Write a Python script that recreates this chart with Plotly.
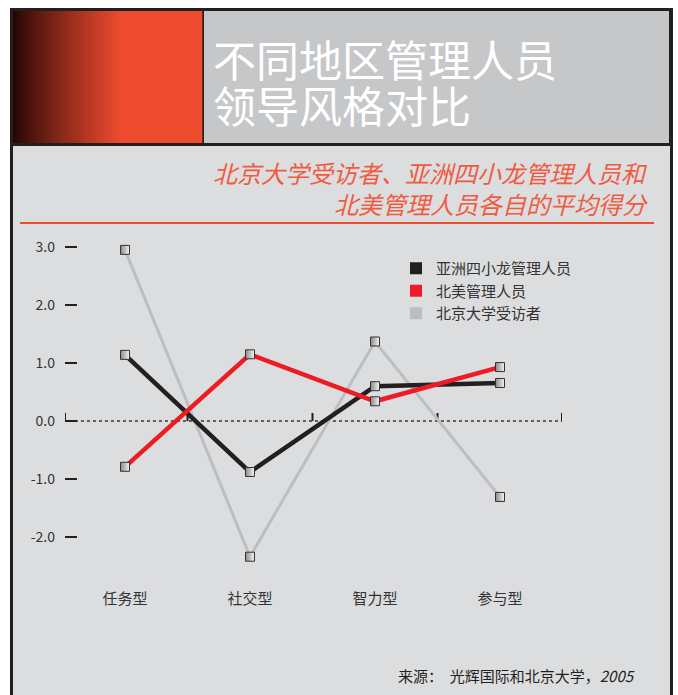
import plotly.graph_objects as go

W, H = 678, 695

categories = ["任务型", "社交型", "智力型", "参与型"]
series_names = ["亚洲四小龙管理人员", "北美管理人员", "北京大学受访者"]
asia_values = [1.14, -0.88, 0.60, 0.655]
na_values = [-0.79, 1.15, 0.34, 0.93]
pku_values = [2.95, -2.34, 1.37, -1.31]
y_tick_vals = [3, 2, 1, 0, -1, -2]
y_tick_text = ["3.0", "2.0", "1.0", "0.0", "-1.0", "-2.0"]

title_lines = ["不同地区管理人员", "领导风格对比"]
subtitle_lines = ["北京大学受访者、亚洲四小龙管理人员和", "北美管理人员各自的平均得分"]
source_text = "来源：  光辉国际和北京大学，<i>2005</i>"

C_BLACK = "#231F20"
C_RED = "#ED1C24"
C_GRAY = "#BCBEC0"
C_PANEL = "#DCDDDF"
C_HEAD = "#C6C7C9"
C_ORANGE = "#EF4B2F"

FONT = "Noto Sans CJK SC, Noto Sans, sans-serif"


def px(x):
    return x / W


def py(y):
    return 1 - y / H


x_idx = list(range(len(categories)))

fig = go.Figure()

marker_style = dict(
    symbol="square",
    size=9,
    color="#8a8a8a",
    gradient=dict(type="horizontal", color="#f4f4f4"),
    line=dict(color="#333333", width=1),
)

# draw order: gray, black, red
for name, vals, col, w in [
    (series_names[2], pku_values, C_GRAY, 3),
    (series_names[0], asia_values, C_BLACK, 4.5),
    (series_names[1], na_values, C_RED, 4.5),
]:
    fig.add_trace(go.Scatter(
        x=x_idx, y=vals, mode="lines+markers", name=name,
        line=dict(color=col, width=w), marker=marker_style,
        showlegend=False, hoverinfo="skip",
    ))

# legend entries
for name, col in [(series_names[0], C_BLACK), (series_names[1], C_RED), (series_names[2], C_GRAY)]:
    fig.add_trace(go.Scatter(
        x=[None], y=[None], mode="markers", name=name,
        marker=dict(symbol="square", size=12, color=col),
        showlegend=True,
    ))

shapes = []
# outer dark frame
shapes.append(dict(type="rect", xref="paper", yref="paper", x0=px(10), x1=px(673), y0=py(700), y1=py(8),
                   fillcolor=C_BLACK, line=dict(width=0), layer="below"))


def lerp(a, b, t):
    return int(round(a + (b - a) * t))


# gradient block (stripes)
c0 = (0x22, 0x06, 0x03)
c1 = (0xEF, 0x4B, 0x2F)
x = 13
while x < 202:
    t = min(1.0, (x - 13) / 108.0)
    t = t ** 0.85
    col = "rgb(%d,%d,%d)" % tuple(lerp(c0[i], c1[i], t) for i in range(3))
    x2 = min(202, x + 2) if x < 125 else 202
    shapes.append(dict(type="rect", xref="paper", yref="paper", x0=px(x), x1=px(x2 + 0.3), y0=py(143), y1=py(11),
                       fillcolor=col, line=dict(width=0), layer="below"))
    x = x2
# gray header block
shapes.append(dict(type="rect", xref="paper", yref="paper", x0=px(204), x1=px(669), y0=py(143), y1=py(11),
                   fillcolor=C_HEAD, line=dict(width=0), layer="below"))
# main panel
shapes.append(dict(type="rect", xref="paper", yref="paper", x0=px(13), x1=px(670), y0=py(700), y1=py(146),
                   fillcolor=C_PANEL, line=dict(width=0), layer="below"))
# red rule under subtitle
shapes.append(dict(type="line", xref="paper", yref="paper", x0=px(20), x1=px(654), y0=py(223), y1=py(223),
                   line=dict(color=C_ORANGE, width=2), layer="below"))
# dotted zero line
shapes.append(dict(type="line", xref="x domain", yref="y", x0=0.02, x1=1, y0=0, y1=0,
                   line=dict(color="#333333", width=1.5, dash="dot"), layer="below"))
# small vertical ticks at category boundaries on the zero line
for b in [-0.48, 0.5, 1.5, 2.5, 3.496]:
    shapes.append(dict(type="line", xref="x", yref="y", ysizemode="pixel", yanchor=0,
                       x0=b, x1=b, y0=0, y1=8,
                       line=dict(color=C_BLACK, width=2), layer="below"))

annotations = []
for t, yy in zip(title_lines, [58, 104]):
    annotations.append(dict(text=t, xref="paper", yref="paper", x=px(211), y=py(yy),
                            xanchor="left", yanchor="middle", showarrow=False,
                            font=dict(family=FONT, size=43, color="white")))
for t, yy in zip(subtitle_lines, [172, 203]):
    annotations.append(dict(text=t, xref="paper", yref="paper", x=px(650), y=py(yy), xanchor="right",
                            yanchor="middle", showarrow=False,
                            font=dict(family=FONT, size=24, color="#EF5B42", style="italic")))
annotations.append(dict(text=source_text, xref="paper", yref="paper", x=px(637), y=py(675), xanchor="right",
                        yanchor="middle", showarrow=False,
                        font=dict(family=FONT, size=15, color=C_BLACK)))

fig.update_layout(
    width=W, height=H,
    margin=dict(l=0, r=0, t=0, b=0),
    paper_bgcolor="white",
    plot_bgcolor="rgba(0,0,0,0)",
    shapes=shapes,
    annotations=annotations,
    font=dict(family=FONT, size=15, color="#333333"),
    xaxis=dict(
        domain=[px(65), px(562)], range=[-0.48, 3.496],
        tickvals=x_idx, ticktext=categories,
        showgrid=False, zeroline=False, showline=False, ticks="",
        tickfont=dict(size=15, color="#333333"),
        ticklabelstandoff=3,
    ),
    yaxis=dict(
        domain=[py(585), py(230)], range=[-2.828, 3.293],
        tickvals=y_tick_vals, ticktext=y_tick_text,
        showgrid=False, zeroline=False, showline=False,
        ticks="inside", ticklen=12, tickwidth=2, tickcolor=C_BLACK,
        tickfont=dict(size=14, color="#333333"),
        ticklabelstandoff=9,
    ),
    legend=dict(
        x=px(396), y=py(252), xanchor="left", yanchor="top",
        bgcolor="rgba(0,0,0,0)", font=dict(size=15, color="#333333"),
        itemwidth=30, tracegroupgap=0,
    ),
    showlegend=True,
)

fig.write_html("out.html")
